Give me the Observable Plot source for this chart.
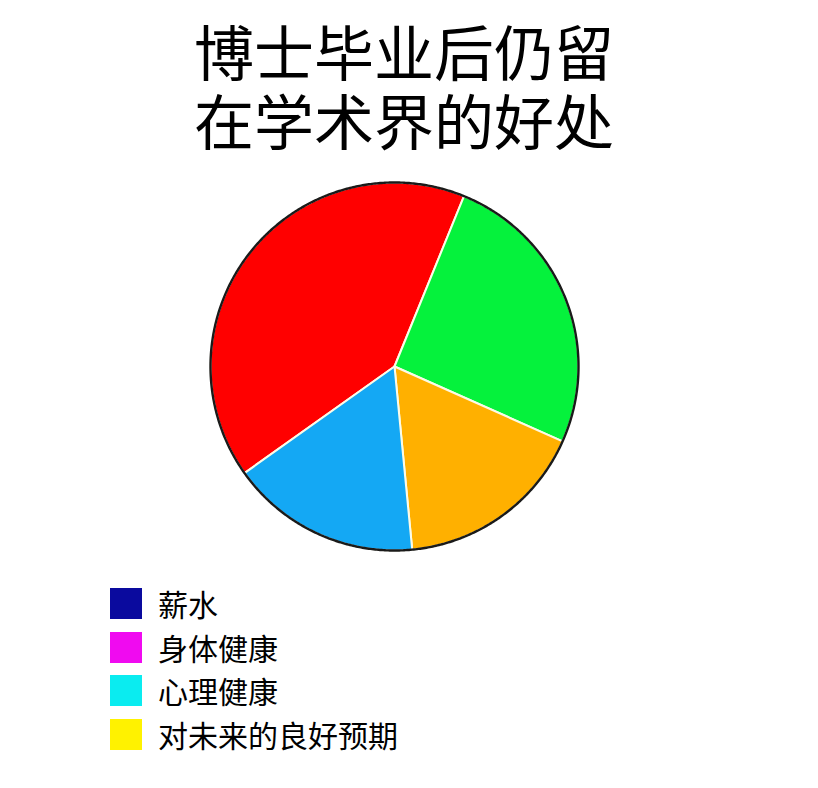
<!DOCTYPE html>
<html>
<head>
<meta charset="utf-8">
<script src="https://cdn.jsdelivr.net/npm/d3@7"></script>
<script src="https://cdn.jsdelivr.net/npm/@observablehq/plot@0.6"></script>
<style>
  html, body { margin: 0; padding: 0; background: #fff; }
  #wrap { position: relative; width: 818px; height: 788px; overflow: hidden;
          font-family: "Noto Sans CJK SC", "Noto Sans", sans-serif; color: #000; }
  .tl { position: absolute; left: 0; width: 808px; text-align: center;
        font-size: 60px; line-height: 60px; height: 60px; font-weight: 400; white-space: nowrap; }
  #chart { position: absolute; left: 0; top: 160px; }
  #legend { position: absolute; left: 110px; top: 588px; display: flex; flex-direction: column; gap: 12.5px; }
  .row { display: flex; align-items: center; height: 31px; }
  .sw { width: 32px; height: 31px; margin-right: 16px; }
  .lab { font-size: 30px; line-height: 31px; white-space: nowrap; }
</style>
</head>
<body>
<div id="wrap">
  <div class="tl" style="top:20px">博士毕业后仍留</div>
  <div class="tl" style="top:89px">在学术界的好处</div>
  <div id="chart"></div>
  <div id="legend"></div>
</div>
<script>
// Pie slices (clockwise, starting at the red slice)
const sliceNames = ["红", "绿", "橙", "蓝"];
const sliceValues = [41.0, 25.5, 16.8, 16.7];
const sliceColors = ["#ff0000", "#05f23c", "#ffb000", "#14a8f4"];
const startDegrees = 234.6; // clockwise from 12 o'clock

// Legend (deliberately unrelated to the slices)
const legendLabels = ["薪水", "身体健康", "心理健康", "对未来的良好预期"];
const legendColors = ["#0a0a9e", "#f00af0", "#0aecf0", "#fff200"];

const start = startDegrees * Math.PI / 180;
const arcs = d3.pie().sort(null).value(d => d.value)
  .startAngle(start).endAngle(start + 2 * Math.PI)(
    sliceNames.map((name, i) => ({name, value: sliceValues[i]}))
  );

const pts = [];
for (const a of arcs) {
  const n = Math.max(4, Math.ceil((a.endAngle - a.startAngle) / (Math.PI / 360)));
  pts.push({name: a.data.name, x: 0, y: 0});
  for (let k = 0; k <= n; k++) {
    const t = a.startAngle + (a.endAngle - a.startAngle) * k / n;
    pts.push({name: a.data.name, x: Math.sin(t), y: Math.cos(t)});
  }
  pts.push({name: a.data.name, x: 0, y: 0});
}
const circle = d3.range(0, 721).map(k => {
  const t = k * Math.PI / 360;
  return {x: Math.sin(t), y: Math.cos(t)};
});

const cx = 394, cy = 206, r = 184;
const plot = Plot.plot({
  width: 818,
  height: 420,
  margin: 0,
  x: {domain: [-1, 1], range: [cx - r, cx + r], axis: null},
  y: {domain: [-1, 1], range: [cy + r, cy - r], axis: null},
  color: {domain: sliceNames, range: sliceColors},
  marks: [
    Plot.line(pts, {x: "x", y: "y", z: "name", fill: "name", stroke: "#fbfbe8", strokeWidth: 2, strokeLinejoin: "round"}),
    Plot.line(circle, {x: "x", y: "y", stroke: "#1a1a1a", strokeWidth: 2.4})
  ]
});
document.getElementById("chart").appendChild(plot);

const legend = document.getElementById("legend");
legendLabels.forEach((lab, i) => {
  const row = document.createElement("div");
  row.className = "row";
  const sw = document.createElement("div");
  sw.className = "sw";
  sw.style.background = legendColors[i];
  const t = document.createElement("div");
  t.className = "lab";
  t.textContent = lab;
  row.appendChild(sw);
  row.appendChild(t);
  legend.appendChild(row);
});
</script>
</body>
</html>
